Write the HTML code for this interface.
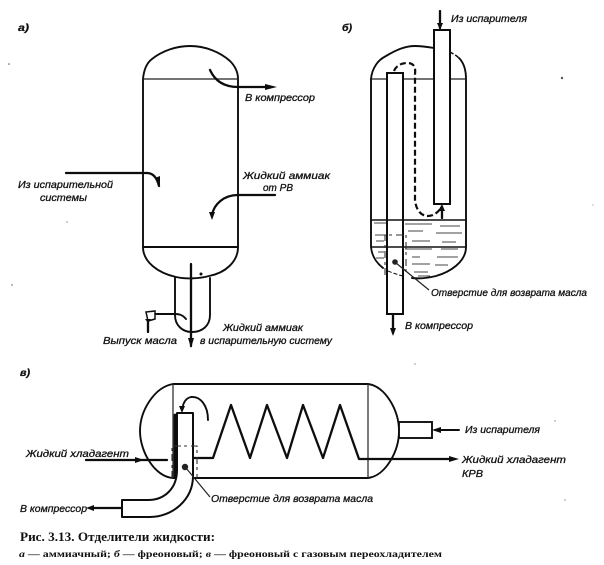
<!DOCTYPE html>
<html lang="ru"><head><meta charset="utf-8"><title>Рис. 3.13</title>
<style>
html,body{margin:0;padding:0;background:#fff}
svg{display:block}
.l{font:italic 10.5px "Liberation Sans","DejaVu Sans",sans-serif;fill:#111;stroke:#111;stroke-width:.3}
.c{font:bold 12.5px "Liberation Serif","DejaVu Serif",serif;fill:#111}
.d{font:bold 9.5px "Liberation Serif","DejaVu Serif",serif;fill:#111}
.t{fill:none;stroke:#111;stroke-width:1.9;stroke-linecap:round;stroke-linejoin:round}
.h{fill:none;stroke:#111;stroke-width:2.3;stroke-linecap:round;stroke-linejoin:round}
.n{fill:none;stroke:#222;stroke-width:1.2}
.s{fill:none;stroke:#111;stroke-width:2.2;stroke-dasharray:6 3}
.q{fill:none;stroke:#333;stroke-width:1.1;stroke-dasharray:7 3 3 4}
</style></head>
<body>
<svg width="604" height="565" viewBox="0 0 604 565" xmlns="http://www.w3.org/2000/svg">
<rect width="604" height="565" fill="#fff"/>
<defs><filter id="b"><feGaussianBlur stdDeviation="0.35"/></filter></defs>
<g filter="url(#b)">
<!-- а -->
<path class="t" d="M143 79C144 68 148 62 152 59C162 51 176 46 190 46C205 46 220 52 230 61C235 66 238 72 238 79V247C238 262 225 273 209 276C198 279 185 279 176 277C158 273 143 262 143 247Z"/>
<path class="n" d="M143 79H238"/>
<path class="t" d="M143 247H238"/>
<path class="t" d="M175 278V315C175 326 183 332 192 332C202 332 210 326 210 315V278"/>
<path class="h" d="M191 264V346"/>
<path d="M188 338L191 348L194 338Z" fill="#111"/>
<circle cx="201" cy="274" r="1.5" fill="#111"/>
<path class="h" d="M210 70C215 81 224 87 238 87H270"/>
<path d="M265 84L277 87L265 90Z" fill="#111"/>
<path class="h" d="M66 173H147C153 173 157 178 159 186"/>
<path d="M155 178L160 187L160 176Z" fill="#111"/>
<path class="h" d="M275 195H238C224 195 214 204 212 215"/>
<path d="M209 212L212 220L215 212Z" fill="#111"/>
<path class="t" d="M186 319C182 314 178 314 174 314H156"/>
<path d="M146 312L155 311V319L148 321Z" fill="none" stroke="#111" stroke-width="1.5"/>
<path class="h" d="M148 320V332"/>
<path d="M145 319L148 323L151 319Z" fill="#111"/>
<!-- б -->
<path class="t" d="M371 79C372 68 378 60 386 56C396 50 405 46 415 46C422 46 428 47 434 48"/>
<path d="M450 52C453 54 456 55 459 58" fill="none" stroke="#111" stroke-width="1.5" stroke-dasharray="4 2"/>
<path class="t" d="M459 58C464 63 466 70 466 79V247C466 262 450 272 436 276C428 278 420 279 412 278"/>
<path class="t" d="M371 79V247C372 258 378 264 383 268"/>
<path d="M403 276C399 275 392 273 386 270" fill="none" stroke="#111" stroke-width="1" stroke-dasharray="4 2"/>
<path class="n" d="M371 79H387M403 79H434M450 79H466"/>
<rect x="387" y="73" width="16" height="241" fill="none" stroke="#111" stroke-width="2"/>
<rect x="434" y="30" width="16" height="174" fill="#fff" stroke="#111" stroke-width="2"/>
<path d="M371 220H466M371 247H466" fill="none" stroke="#111" stroke-width="1.4"/>
<path d="M374 223H386M405 224H432M440 226H460M375 235H385M408 231H423M436 233H462M376 241H384M412 241H430M442 242H456M405 249H432M441 249H458M378 252H384M412 257H420M437 257H458M376 258H384M412 264H430M414 272H428M435 265H448M418 276H430" stroke="#444" stroke-width="1" fill="none"/>
<path class="q" d="M385 275V235H406V276"/>
<path class="h" d="M440 11V28"/>
<path d="M437 23L440 30L443 23Z" fill="#111"/>
<path class="h" d="M393 314V333"/>
<path d="M390 328L393 336L396 328Z" fill="#111"/>
<path class="s" d="M394 71C396 66 401 63 407 63C413 63 416 66 415 74V200C416 210 421 216 428 216C434 216 438 212 441 208"/>
<path class="h" d="M442 218V208"/>
<path d="M438 211L442 204L445 211Z" fill="#111"/>
<circle cx="395" cy="262" r="2.8" fill="#222"/>
<path class="n" d="M396 263L429 290"/>
<!-- в -->
<path class="t" d="M173 384C155 387 140 410 140 431C140 452 155 477 173 478H368C385 476 399 452 399 431C399 410 385 386 368 384Z"/>
<path class="n" d="M173 384V478M368 384V478"/>
<path d="M177 413H193V476C193 500 172 517 150 517H122V500H148C165 500 177 488 177 470Z" fill="#fff" stroke="#111" stroke-width="2" stroke-linejoin="round"/>
<path class="h" d="M175 415V477" style="stroke-width:2.8"/>
<path class="h" d="M194 458H213L231 405L250 458L267 405L287 458L303 405L323 458L340 405L359 459H450"/>
<path d="M449 456L459 459L449 462Z" fill="#111"/>
<rect x="399" y="422" width="33" height="16" fill="#fff" stroke="#111" stroke-width="1.9"/>
<path class="t" d="M459 430H435"/>
<path d="M441 427L432 430L441 433Z" fill="#111"/>
<path class="h" d="M86 460H167"/>
<path d="M135 457L144 460L135 463Z" fill="#111"/>
<path class="q" d="M172 478V446H197V478"/>
<circle cx="185" cy="467" r="3.2" fill="#222"/>
<path class="n" d="M186 468L210 497"/>
<path class="t" d="M208 420C208 405 200 396 191 397C186 398 183 403 182 410"/>
<path d="M179 406L182 413L185 406Z" fill="#111"/>
<path class="h" d="M122 508H92"/>
<path d="M94 505L86 508L94 511Z" fill="#111"/>
<!-- specks -->
<g fill="#555"><circle cx="9" cy="64" r=".8"/><circle cx="562" cy="78" r="1.2"/><circle cx="12" cy="285" r=".7"/><circle cx="67" cy="222" r=".6"/><circle cx="593" cy="205" r=".5"/><circle cx="555" cy="421" r=".6"/><circle cx="565" cy="500" r=".6"/><circle cx="415" cy="364" r=".6"/></g>
</g>
<!-- labels -->
<g class="l">
<text x="18" y="31" style="font-weight:bold" textLength="11" lengthAdjust="spacingAndGlyphs">а)</text>
<text x="245" y="101" textLength="70" lengthAdjust="spacingAndGlyphs">В компрессор</text>
<text x="243" y="179" textLength="87" lengthAdjust="spacingAndGlyphs">Жидкий аммиак</text>
<text x="263" y="191" textLength="30" lengthAdjust="spacingAndGlyphs">от РВ</text>
<text x="18" y="188" textLength="95" lengthAdjust="spacingAndGlyphs">Из испарительной</text>
<text x="40" y="201" textLength="47" lengthAdjust="spacingAndGlyphs">системы</text>
<text x="223" y="331" textLength="80" lengthAdjust="spacingAndGlyphs">Жидкий аммиак</text>
<text x="200" y="344" textLength="132" lengthAdjust="spacingAndGlyphs">в испарительную систему</text>
<text x="103" y="344" textLength="74" lengthAdjust="spacingAndGlyphs">Выпуск масла</text>
<text x="342" y="31" style="font-weight:bold" textLength="10" lengthAdjust="spacingAndGlyphs">б)</text>
<text x="451" y="22" textLength="76" lengthAdjust="spacingAndGlyphs">Из испарителя</text>
<text x="431" y="296" textLength="156" lengthAdjust="spacingAndGlyphs">Отверстие для возврата масла</text>
<text x="405" y="329" textLength="68" lengthAdjust="spacingAndGlyphs">В компрессор</text>
<text x="20" y="376" style="font-weight:bold" textLength="10" lengthAdjust="spacingAndGlyphs">в)</text>
<text x="26" y="457" textLength="103" lengthAdjust="spacingAndGlyphs">Жидкий хладагент</text>
<text x="20" y="512" textLength="67" lengthAdjust="spacingAndGlyphs">В компрессор</text>
<text x="211" y="502" textLength="162" lengthAdjust="spacingAndGlyphs">Отверстие для возврата масла</text>
<text x="465" y="433" textLength="75" lengthAdjust="spacingAndGlyphs">Из испарителя</text>
<text x="462" y="463" textLength="104" lengthAdjust="spacingAndGlyphs">Жидкий хладагент</text>
<text x="462" y="477" textLength="21" lengthAdjust="spacingAndGlyphs">КРВ</text>
</g>
<text class="c" x="20" y="541" textLength="195" lengthAdjust="spacingAndGlyphs">Рис. 3.13. Отделители жидкости:</text>
<text class="d" x="19" y="557" textLength="423" lengthAdjust="spacingAndGlyphs"><tspan font-style="italic">а</tspan> — аммиачный; <tspan font-style="italic">б</tspan> — фреоновый; <tspan font-style="italic">в</tspan> — фреоновый с газовым переохладителем</text>
</svg>
</body></html>
